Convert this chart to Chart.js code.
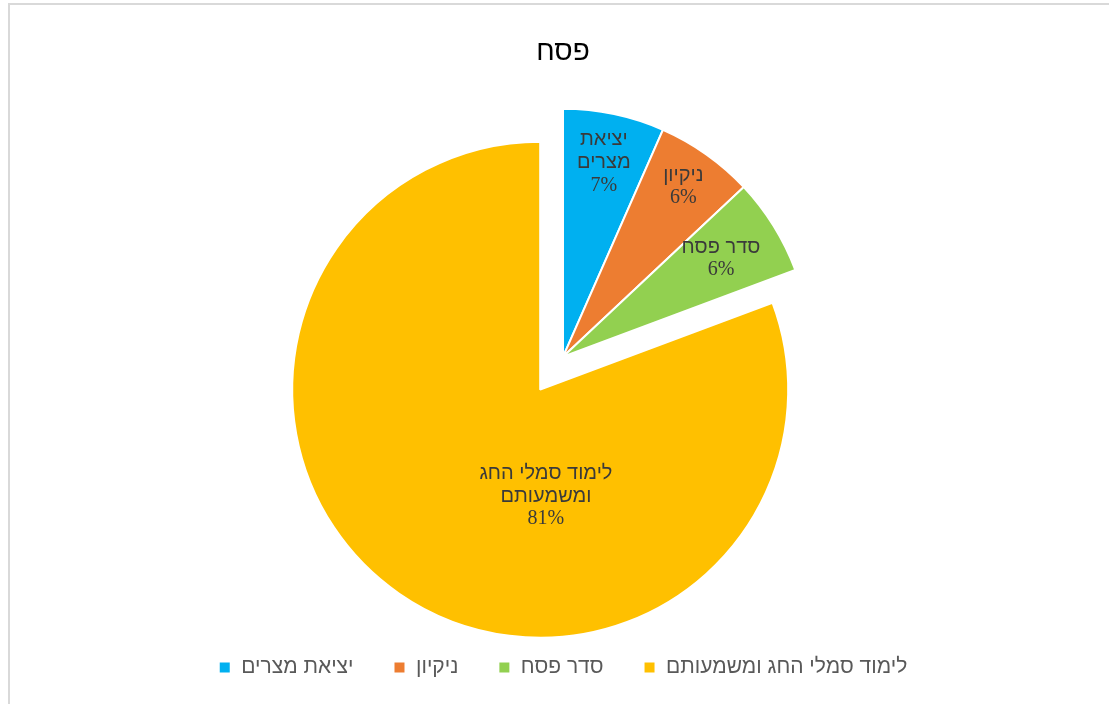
<!DOCTYPE html>
<html>
<head>
<meta charset="utf-8">
<script src="https://cdn.jsdelivr.net/npm/chart.js@4.4.1/dist/chart.umd.min.js"></script>
<style>
  html, body { margin: 0; padding: 0; background: #fff; overflow: hidden; }
  #wrap { position: relative; width: 1109px; height: 704px; overflow: hidden; }
  #frame { position: absolute; left: 8px; top: 3px; width: 1200px; height: 800px; border: 2px solid #d9d9d9; }
  canvas { position: absolute; left: 0; top: 0; }
</style>
</head>
<body>
<div id="wrap">
  <div id="frame"></div>
  <canvas id="pie-chart" width="1109" height="704"></canvas>
</div>
<script>
// chart data
const chartTitle = "פסח";
const categories = ["יציאת מצרים", "ניקיון", "סדר פסח", "לימוד סמלי החג ומשמעותם"];
const values = [6.6, 6.4, 6.3, 80.7];
const colors = ["#00B0F0", "#ED7D31", "#92D050", "#FFC000"];

// styling of the exploded slice and the in-slice labels
const explode = [0, 0, 0, 40];
const labelDepth = [0.80, 0.84, 0.75, 0.43];
const labelTurn = [0, 0, 0, -0.66];
const labelWrap = [80, 120, 120, 170];
const LABEL_FONT = "20px 'Liberation Sans', 'DejaVu Sans', sans-serif";
const PCT_FONT = "20px 'Liberation Serif', 'DejaVu Serif', serif";
const LINE_H = 23;

// move an exploded slice out along its own bisector (keeps the radius unchanged)
const explodePlugin = {
  id: "explodeSlices",
  afterDatasetUpdate(chart, args) {
    args.meta.data.forEach((arc, i) => {
      const d = explode[i] || 0;
      if (!d) return;
      const mid = (arc.startAngle + arc.endAngle) / 2;
      arc.x += Math.cos(mid) * d;
      arc.y += Math.sin(mid) * d;
    });
  },
};

function wrapWords(ctx, text, maxWidth) {
  const words = text.split(" ");
  const lines = [];
  let line = "";
  words.forEach((w) => {
    const test = line ? line + " " + w : w;
    if (line && ctx.measureText(test).width > maxWidth) {
      lines.push(line);
      line = w;
    } else {
      line = test;
    }
  });
  if (line) lines.push(line);
  return lines;
}

// category name + percentage drawn inside each slice
const sliceLabels = {
  id: "sliceLabels",
  afterDatasetsDraw(chart) {
    const { ctx } = chart;
    const arcs = chart.getDatasetMeta(0).data;
    const total = values.reduce((a, b) => a + b, 0);
    ctx.save();
    ctx.fillStyle = "#3a3a3a";
    ctx.textAlign = "center";
    ctx.textBaseline = "middle";
    arcs.forEach((arc, i) => {
      const angle = (arc.startAngle + arc.endAngle) / 2 + labelTurn[i];
      const r = arc.outerRadius * labelDepth[i];
      const cx = arc.x + Math.cos(angle) * r;
      const cy = arc.y + Math.sin(angle) * r;
      ctx.font = LABEL_FONT;
      const lines = wrapWords(ctx, categories[i], labelWrap[i]);
      lines.push(Math.round((values[i] / total) * 100) + "%");
      const top = cy - ((lines.length - 1) * LINE_H) / 2;
      lines.forEach((t, k) => {
        ctx.font = k === lines.length - 1 ? PCT_FONT : LABEL_FONT;
        ctx.fillText(t, cx, top + k * LINE_H);
      });
    });
    ctx.restore();
  },
};

const ctx = document.getElementById("pie-chart").getContext("2d");
new Chart(ctx, {
  type: "pie",
  data: {
    labels: categories,
    datasets: [
      {
        data: values,
        backgroundColor: colors,
        borderColor: "#ffffff",
        borderWidth: 2,
      },
    ],
  },
  options: {
    responsive: false,
    animation: false,
    devicePixelRatio: 1,
    radius: 248,
    layout: { padding: { left: 17, right: 0, top: 0, bottom: 16 } },
    plugins: {
      title: {
        display: true,
        text: chartTitle,
        color: "#000000",
        font: { size: 28, family: "'Liberation Sans', 'DejaVu Sans', sans-serif", weight: "normal" },
        padding: { top: 35, bottom: 28 },
      },
      legend: {
        position: "bottom",
        labels: {
          color: "#595959",
          font: { size: 21, family: "'Liberation Sans', 'DejaVu Sans', sans-serif" },
          boxWidth: 12,
          boxHeight: 12,
          padding: 40,
        },
      },
      tooltip: { enabled: false },
    },
  },
  plugins: [explodePlugin, sliceLabels],
});
</script>
</body>
</html>
